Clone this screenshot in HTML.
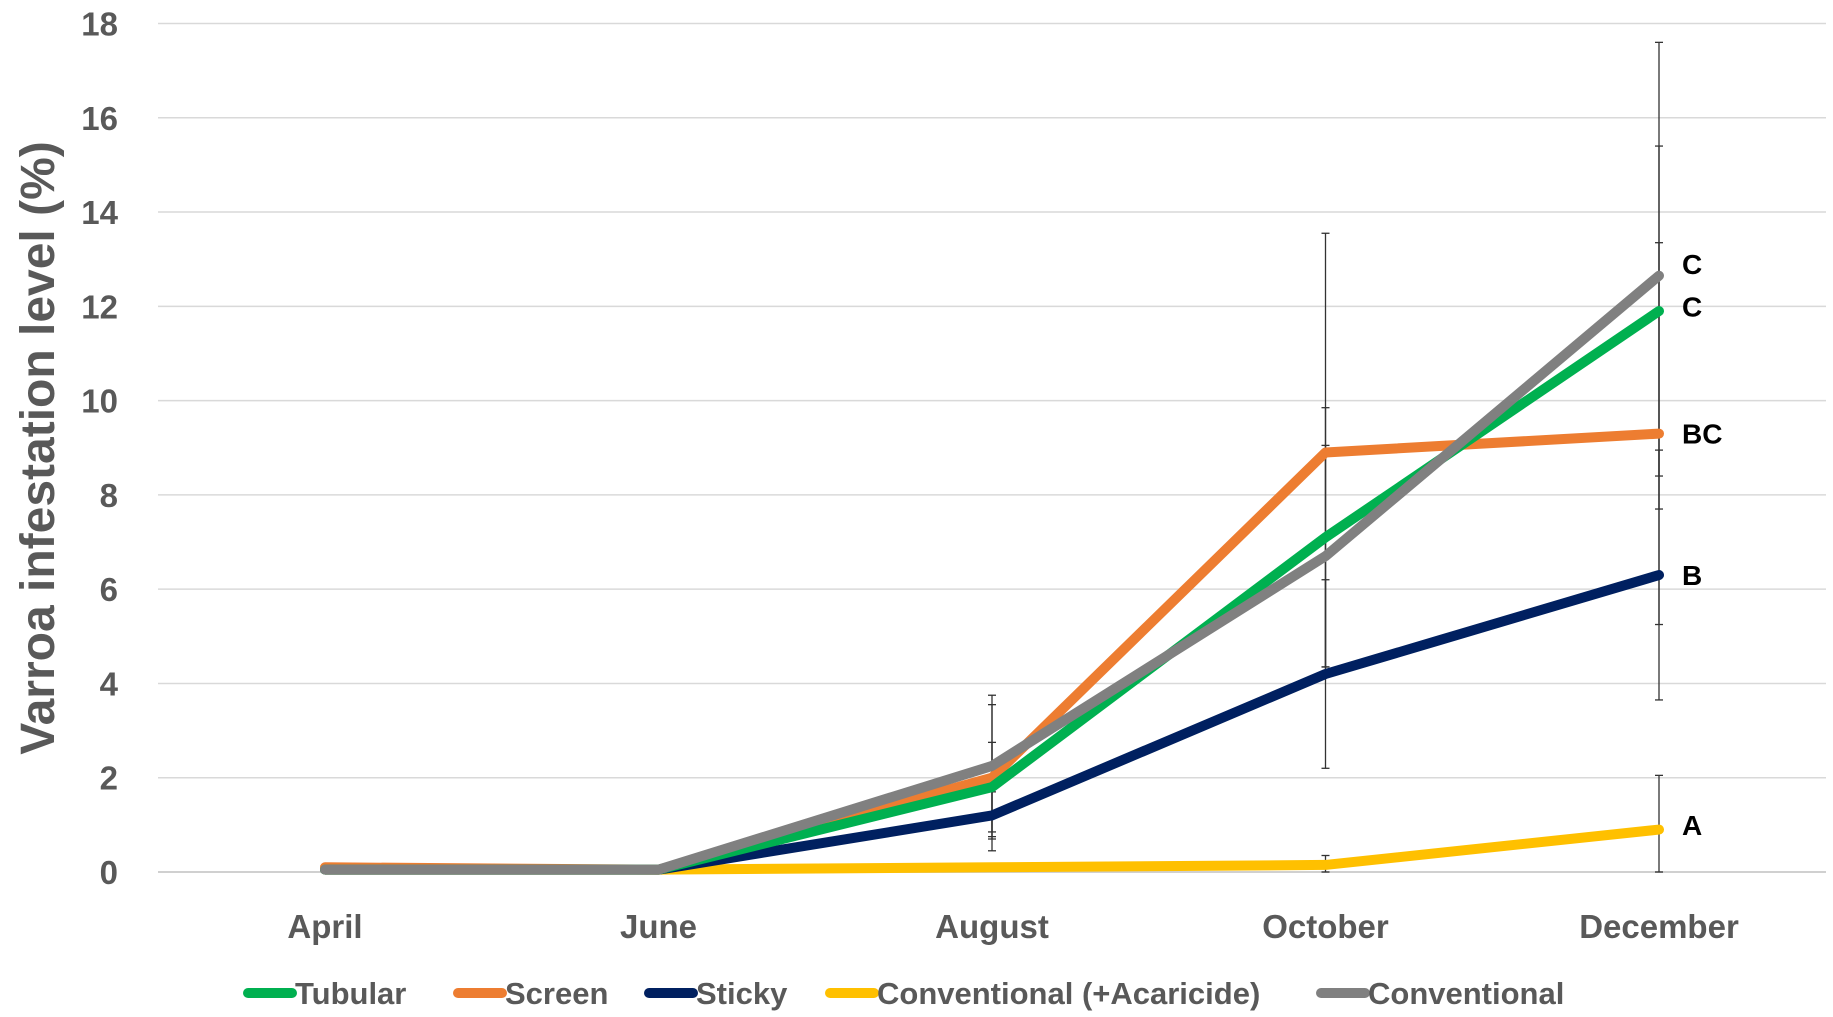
<!DOCTYPE html>
<html><head><meta charset="utf-8"><style>
html,body{margin:0;padding:0;background:#fff;}
svg{display:block;font-family:"Liberation Sans",sans-serif;}
</style></head><body>
<svg id="chart" width="1833" height="1017" viewBox="0 0 1833 1017" xmlns="http://www.w3.org/2000/svg">
<g id="grid"></g>
<g id="yticks"></g>
<g id="xticks"></g>
<g id="errs"></g>
<g id="lines"></g>
<g id="sig"></g>
<g id="legend"></g>
<text transform="translate(54,448) rotate(-90)" text-anchor="middle" font-size="48" font-weight="bold" fill="#595959">Varroa infestation level (%)</text>
</svg>
<script>
const categories = ["April","June","August","October","December"];
const yTicks = [0,2,4,6,8,10,12,14,16,18];
const seriesNames = ["Conventional (+Acaricide)","Sticky","Screen","Tubular","Conventional"];
const seriesColors = ["#FFC000","#002060","#ED7D31","#00B050","#808080"];
const acaricide = [0.05,0.05,0.1,0.15,0.9];
const sticky = [0.05,0.05,1.2,4.2,6.3];
const screen = [0.1,0.05,2.0,8.9,9.3];
const tubular = [0.05,0.05,1.8,7.1,11.9];
const conventional = [0.05,0.05,2.25,6.7,12.65];
const errAcaricide = [0,0,0,0.2,1.15];
const errSticky = [0,0,0.5,2.0,2.65];
const errScreen = [0,0,1.55,4.65,4.05];
const errTubular = [0,0,0.95,2.75,3.5];
const errConventional = [0,0,1.5,2.35,4.95];
const letters = ["A","B","BC","C","C"];
const letterY = [1.0,6.3,9.3,12.0,12.9];

const NS="http://www.w3.org/2000/svg";
const X0=325, XSTEP=333.5, Y0=872, Y18=23.5;
const xs=i=>X0+i*XSTEP;
const ys=v=>Y0-(v/18)*(Y0-Y18);
function mk(tag,attrs,parent){const e=document.createElementNS(NS,tag);for(const k in attrs)e.setAttribute(k,attrs[k]);parent.appendChild(e);return e;}
const grid=document.getElementById('grid'),yt=document.getElementById('yticks'),xt=document.getElementById('xticks');
yTicks.forEach(t=>{
  const l=mk('line',{x1:158,x2:1826,y1:ys(t),y2:ys(t),stroke:t===0?'#d0d0d0':'#d9d9d9','stroke-width':t===0?2:1.5},grid);
  
  
  const tx=mk('text',{x:118,y:ys(t)+12,'text-anchor':'end','font-size':33,'font-weight':'bold',fill:'#595959'},yt);
  tx.textContent=t;
  
  
});
categories.forEach((c,i)=>{
  const tx=mk('text',{x:xs(i),y:938,'text-anchor':'middle','font-size':33,'font-weight':'bold',fill:'#595959'},xt);
  tx.textContent=c;
  
  
});
const allData=[acaricide,sticky,screen,tubular,conventional];
const allErr=[errAcaricide,errSticky,errScreen,errTubular,errConventional];
const eg=document.getElementById('errs');
allData.forEach((d,s)=>{d.forEach((v,i)=>{const e=allErr[s][i];if(!e)return;
  const lo=Math.max(0,v-e),hi=v+e;
  const l=mk('line',{x1:xs(i),x2:xs(i),y1:ys(lo),y2:ys(hi),stroke:'#333','stroke-width':1.3},eg);
  
  
  [lo,hi].forEach(y=>{const c=mk('line',{x1:xs(i)-4,x2:xs(i)+4,y1:ys(y),y2:ys(y),stroke:'#333','stroke-width':1.3},eg);
    
    });
});});
const lg=document.getElementById('lines');
allData.forEach((d,s)=>{
  const p=mk('polyline',{points:d.map((v,i)=>xs(i)+','+ys(v)).join(' '),fill:'none',stroke:seriesColors[s],'stroke-width':10,'stroke-linejoin':'round','stroke-linecap':'round'},lg);
  
  
});
const sg=document.getElementById('sig');
letters.forEach((t,i)=>{
  const tx=mk('text',{x:1682,y:ys(letterY[i])+10,'font-size':28,'font-weight':'bold',fill:'#000'},sg);
  tx.textContent=t;
  
  
});
const legendOrder=[3,2,1,0,4];
const legendX=[248,458,649,830,1321];
const leg=document.getElementById('legend');
legendOrder.forEach((s,k)=>{
  const g=mk('g',{},leg);
  
  
  mk('line',{x1:legendX[k],x2:legendX[k]+44,y1:993,y2:993,stroke:seriesColors[s],'stroke-width':10,'stroke-linecap':'round'},g);
  const tx=mk('text',{x:legendX[k]+47,y:1004,'font-size':31,'font-weight':'bold',fill:'#595959'},g);
  tx.textContent=seriesNames[s];
});
</script>
</body></html>
